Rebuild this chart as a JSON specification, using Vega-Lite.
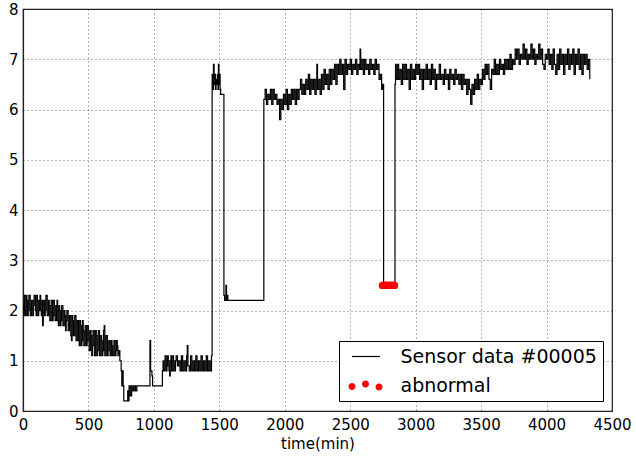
{
  "$schema": "https://vega.github.io/schema/vega-lite/v6.json",
  "width": 589,
  "height": 402,
  "autosize": "none",
  "padding": {"left": 23, "top": 9, "right": 24, "bottom": 46},
  "background": "white",
  "config": {
    "font": "DejaVu Sans",
    "view": {"stroke": "#222", "strokeWidth": 1.2},
    "axis": {
      "domainColor": "#222",
      "domainWidth": 1.2,
      "labelColor": "black",
      "labelFontSize": 15,
      "labelFont": "DejaVu Sans",
      "titleFont": "DejaVu Sans",
      "titleFontSize": 15,
      "titleFontWeight": "normal",
      "titleColor": "black",
      "gridColor": "#000",
      "gridOpacity": 0.6,
      "gridDash": [1, 3],
      "gridWidth": 1,
      "ticks": false
    }
  },
  "datasets": {
    "sensor": [
      {"t":0,"v":2.1},{"t":5,"v":1.9},{"t":10,"v":2.3},{"t":15,"v":2.0},{"t":20,"v":1.9},{"t":25,"v":2.3},{"t":30,"v":2.2},{"t":35,"v":1.9},{"t":40,"v":2.0},{"t":45,"v":2.3},
      {"t":50,"v":2.3},{"t":55,"v":1.9},{"t":60,"v":1.9},{"t":65,"v":2.2},{"t":70,"v":2.2},{"t":75,"v":1.9},{"t":80,"v":2.1},{"t":85,"v":2.3},{"t":90,"v":2.3},{"t":95,"v":2.0},
      {"t":100,"v":1.9},{"t":105,"v":2.3},{"t":110,"v":2.2},{"t":115,"v":1.9},{"t":120,"v":2.0},{"t":125,"v":2.2},{"t":130,"v":2.3},{"t":135,"v":2.0},{"t":140,"v":1.9},{"t":145,"v":2.2},
      {"t":150,"v":1.7},{"t":155,"v":2.1},{"t":160,"v":2.2},{"t":165,"v":1.9},{"t":170,"v":2.0},{"t":175,"v":2.3},{"t":180,"v":2.3},{"t":185,"v":1.9},{"t":190,"v":1.9},{"t":195,"v":2.2},
      {"t":200,"v":2.1},{"t":205,"v":1.8},{"t":210,"v":1.8},{"t":215,"v":2.2},{"t":220,"v":2.2},{"t":225,"v":1.8},{"t":230,"v":1.9},{"t":235,"v":2.2},{"t":240,"v":2.1},{"t":245,"v":1.8},
      {"t":250,"v":1.8},{"t":255,"v":2.1},{"t":260,"v":2.2},{"t":265,"v":1.8},{"t":270,"v":1.7},{"t":275,"v":2.1},{"t":280,"v":2.0},{"t":285,"v":1.7},{"t":290,"v":1.8},{"t":295,"v":2.1},
      {"t":300,"v":2.1},{"t":305,"v":1.7},{"t":310,"v":1.7},{"t":315,"v":2.0},{"t":320,"v":1.9},{"t":325,"v":1.6},{"t":330,"v":1.8},{"t":335,"v":2.0},{"t":340,"v":2.0},{"t":345,"v":1.6},
      {"t":350,"v":1.6},{"t":355,"v":1.9},{"t":360,"v":1.9},{"t":365,"v":1.5},{"t":370,"v":1.4},{"t":375,"v":1.9},{"t":380,"v":1.8},{"t":385,"v":1.5},{"t":390,"v":1.5},{"t":395,"v":1.9},
      {"t":400,"v":1.9},{"t":405,"v":1.4},{"t":410,"v":1.4},{"t":415,"v":1.8},{"t":420,"v":1.8},{"t":425,"v":1.4},{"t":430,"v":1.3},{"t":435,"v":1.8},{"t":440,"v":1.7},{"t":445,"v":1.3},
      {"t":450,"v":1.4},{"t":455,"v":1.8},{"t":460,"v":1.6},{"t":465,"v":1.3},{"t":470,"v":1.3},{"t":475,"v":1.7},{"t":480,"v":1.7},{"t":485,"v":1.3},{"t":490,"v":1.4},{"t":495,"v":1.7},
      {"t":500,"v":1.6},{"t":505,"v":1.2},{"t":510,"v":1.2},{"t":515,"v":1.6},{"t":520,"v":1.5},{"t":525,"v":1.1},{"t":530,"v":1.3},{"t":535,"v":1.6},{"t":540,"v":1.6},{"t":545,"v":1.1},
      {"t":550,"v":1.1},{"t":555,"v":1.6},{"t":560,"v":1.5},{"t":565,"v":1.1},{"t":570,"v":1.2},{"t":575,"v":1.6},{"t":580,"v":1.6},{"t":585,"v":1.1},{"t":590,"v":1.1},{"t":595,"v":1.5},
      {"t":600,"v":1.4},{"t":605,"v":1.1},{"t":610,"v":1.2},{"t":615,"v":1.6},{"t":620,"v":1.7},{"t":625,"v":1.1},{"t":630,"v":1.1},{"t":635,"v":1.5},{"t":640,"v":1.5},{"t":645,"v":1.1},
      {"t":650,"v":1.2},{"t":655,"v":1.4},{"t":660,"v":1.4},{"t":665,"v":1.1},{"t":670,"v":1.1},{"t":675,"v":1.4},{"t":680,"v":1.3},{"t":685,"v":1.1},{"t":690,"v":1.1},{"t":695,"v":1.4},
      {"t":700,"v":1.4},{"t":705,"v":1.1},{"t":710,"v":1.2},{"t":715,"v":1.4},{"t":720,"v":1.3},{"t":725,"v":1.1},{"t":730,"v":1.1},{"t":735,"v":1.2},
      {"t":740,"v":1.0},{"t":750,"v":0.8},{"t":755,"v":0.5},{"t":760,"v":0.8},{"t":765,"v":0.5},{"t":770,"v":0.2},
      {"t":790,"v":0.2},{"t":800,"v":0.4},{"t":805,"v":0.2},{"t":810,"v":0.5},{"t":820,"v":0.3},{"t":830,"v":0.5},{"t":840,"v":0.4},{"t":850,"v":0.5},{"t":860,"v":0.4},{"t":870,"v":0.5},
      {"t":960,"v":0.5},{"t":970,"v":1.4},{"t":975,"v":0.8},{"t":985,"v":0.7},{"t":990,"v":0.5},{"t":1060,"v":0.5},{"t":1065,"v":0.8},
      {"t":1070,"v":1.0},{"t":1075,"v":0.8},{"t":1080,"v":0.8},{"t":1085,"v":1.1},{"t":1090,"v":1.1},{"t":1095,"v":0.8},{"t":1100,"v":0.9},{"t":1105,"v":1.1},{"t":1110,"v":1.0},{"t":1115,"v":0.8},
      {"t":1120,"v":0.7},{"t":1125,"v":1.0},{"t":1130,"v":1.1},{"t":1135,"v":0.8},{"t":1140,"v":0.8},{"t":1145,"v":1.1},{"t":1150,"v":1.0},{"t":1155,"v":0.8},{"t":1160,"v":0.8},{"t":1165,"v":1.0},
      {"t":1170,"v":1.1},{"t":1180,"v":0.9},{"t":1190,"v":1.0},{"t":1200,"v":0.8},{"t":1210,"v":1.1},{"t":1220,"v":0.8},{"t":1230,"v":1.0},{"t":1240,"v":0.8},{"t":1250,"v":1.1},{"t":1255,"v":1.3},
      {"t":1260,"v":0.9},{"t":1270,"v":0.8},{"t":1280,"v":1.1},{"t":1290,"v":0.8},{"t":1300,"v":1.0},{"t":1310,"v":0.8},{"t":1320,"v":1.1},{"t":1330,"v":0.8},{"t":1340,"v":1.0},{"t":1350,"v":0.8},
      {"t":1360,"v":1.1},{"t":1370,"v":0.8},{"t":1380,"v":1.0},{"t":1390,"v":0.8},{"t":1400,"v":1.1},{"t":1410,"v":0.8},{"t":1420,"v":1.0},{"t":1430,"v":0.8},{"t":1440,"v":1.1},
      {"t":1445,"v":6.7},{"t":1450,"v":6.4},{"t":1455,"v":6.9},{"t":1460,"v":6.5},{"t":1465,"v":6.7},{"t":1470,"v":6.4},{"t":1475,"v":6.6},{"t":1480,"v":6.5},{"t":1485,"v":6.7},{"t":1490,"v":6.4},
      {"t":1493,"v":6.9},{"t":1497,"v":6.5},{"t":1502,"v":6.7},{"t":1506,"v":6.4},{"t":1510,"v":6.3},{"t":1530,"v":6.3},{"t":1535,"v":2.3},{"t":1540,"v":2.2},{"t":1550,"v":2.5},{"t":1555,"v":2.2},
      {"t":1560,"v":2.3},{"t":1565,"v":2.2},{"t":1835,"v":2.2},
      {"t":1840,"v":6.2},{"t":1850,"v":6.4},{"t":1860,"v":6.1},{"t":1870,"v":6.3},{"t":1880,"v":6.2},{"t":1890,"v":6.4},{"t":1900,"v":6.1},{"t":1910,"v":6.4},{"t":1920,"v":6.2},{"t":1930,"v":6.3},
      {"t":1940,"v":6.1},{"t":1950,"v":6.2},{"t":1960,"v":5.8},{"t":1970,"v":6.2},{"t":1980,"v":6.0},{"t":1990,"v":6.3},{"t":2000,"v":6.1},{"t":2010,"v":6.4},{"t":2020,"v":6.0},{"t":2030,"v":6.3},
      {"t":2040,"v":6.1},{"t":2050,"v":6.4},{"t":2060,"v":6.2},{"t":2070,"v":6.4},{"t":2080,"v":6.1},{"t":2090,"v":6.4},{"t":2100,"v":6.2},{"t":2110,"v":6.4},{"t":2120,"v":6.6},{"t":2130,"v":6.3},
      {"t":2140,"v":6.5},{"t":2150,"v":6.3},{"t":2160,"v":6.6},{"t":2170,"v":6.4},{"t":2180,"v":6.7},{"t":2190,"v":6.3},{"t":2200,"v":6.6},{"t":2210,"v":6.4},{"t":2220,"v":6.6},{"t":2230,"v":6.3},
      {"t":2240,"v":6.6},{"t":2245,"v":6.9},{"t":2250,"v":6.4},{"t":2260,"v":6.6},{"t":2270,"v":6.3},{"t":2280,"v":6.7},{"t":2290,"v":6.4},{"t":2300,"v":6.8},{"t":2310,"v":6.5},{"t":2320,"v":6.7},
      {"t":2330,"v":6.4},{"t":2340,"v":6.8},{"t":2350,"v":6.5},{"t":2360,"v":6.8},{"t":2370,"v":6.6},{"t":2380,"v":6.9},{"t":2390,"v":6.5},{"t":2400,"v":6.9},{"t":2410,"v":6.7},{"t":2420,"v":7.0},
      {"t":2430,"v":6.7},{"t":2440,"v":6.9},{"t":2450,"v":6.4},{"t":2460,"v":7.0},{"t":2470,"v":6.7},{"t":2480,"v":6.9},{"t":2490,"v":6.8},{"t":2500,"v":7.0},{"t":2510,"v":6.7},{"t":2520,"v":6.9},
      {"t":2530,"v":6.8},{"t":2540,"v":7.0},{"t":2550,"v":6.7},{"t":2560,"v":6.9},{"t":2570,"v":6.8},{"t":2575,"v":7.2},{"t":2580,"v":6.8},{"t":2590,"v":7.0},{"t":2600,"v":6.7},{"t":2610,"v":7.0},
      {"t":2620,"v":6.8},{"t":2630,"v":6.9},{"t":2640,"v":6.7},{"t":2650,"v":7.0},{"t":2660,"v":6.8},{"t":2670,"v":6.9},{"t":2680,"v":6.7},{"t":2690,"v":7.0},{"t":2700,"v":6.8},{"t":2710,"v":6.9},
      {"t":2720,"v":6.6},{"t":2730,"v":6.7},{"t":2740,"v":6.4},{"t":2748,"v":6.5},{"t":2755,"v":2.5},{"t":2835,"v":2.5},
      {"t":2842,"v":6.5},{"t":2846,"v":6.9},{"t":2850,"v":6.6},{"t":2860,"v":6.9},{"t":2870,"v":6.6},{"t":2880,"v":6.8},{"t":2890,"v":6.5},{"t":2900,"v":6.9},{"t":2910,"v":6.6},{"t":2920,"v":6.9},
      {"t":2930,"v":6.6},{"t":2940,"v":6.8},{"t":2950,"v":6.4},{"t":2960,"v":6.9},{"t":2970,"v":6.6},{"t":2980,"v":6.8},{"t":2990,"v":6.6},{"t":3000,"v":6.9},{"t":3010,"v":6.7},{"t":3020,"v":6.9},
      {"t":3030,"v":6.6},{"t":3040,"v":6.8},{"t":3050,"v":6.4},{"t":3060,"v":6.8},{"t":3070,"v":6.6},{"t":3080,"v":6.9},{"t":3090,"v":6.6},{"t":3100,"v":6.8},{"t":3110,"v":6.5},{"t":3120,"v":6.9},
      {"t":3130,"v":6.6},{"t":3140,"v":6.8},{"t":3150,"v":6.4},{"t":3160,"v":6.7},{"t":3170,"v":6.6},{"t":3180,"v":6.9},{"t":3190,"v":6.6},{"t":3200,"v":6.7},{"t":3210,"v":6.5},{"t":3220,"v":6.8},
      {"t":3230,"v":6.6},{"t":3240,"v":6.7},{"t":3250,"v":6.4},{"t":3260,"v":6.8},{"t":3270,"v":6.6},{"t":3280,"v":6.7},{"t":3290,"v":6.5},{"t":3300,"v":6.8},{"t":3310,"v":6.6},{"t":3320,"v":6.7},
      {"t":3330,"v":6.5},{"t":3340,"v":6.7},{"t":3350,"v":6.4},{"t":3360,"v":6.7},{"t":3370,"v":6.5},{"t":3380,"v":6.6},{"t":3390,"v":6.3},{"t":3400,"v":6.6},{"t":3410,"v":6.4},{"t":3420,"v":6.1},
      {"t":3430,"v":6.5},{"t":3440,"v":6.3},{"t":3450,"v":6.6},{"t":3460,"v":6.4},{"t":3470,"v":6.7},{"t":3480,"v":6.4},{"t":3490,"v":6.6},{"t":3500,"v":6.5},{"t":3510,"v":6.8},{"t":3520,"v":6.6},
      {"t":3530,"v":6.9},{"t":3540,"v":6.7},{"t":3550,"v":6.9},{"t":3560,"v":6.6},{"t":3570,"v":6.4},{"t":3580,"v":6.8},{"t":3590,"v":6.7},{"t":3600,"v":7.0},{"t":3610,"v":6.7},{"t":3620,"v":6.9},
      {"t":3630,"v":6.7},{"t":3640,"v":7.0},{"t":3650,"v":6.8},{"t":3660,"v":6.9},{"t":3670,"v":6.7},{"t":3680,"v":7.0},{"t":3690,"v":6.8},{"t":3700,"v":7.0},{"t":3710,"v":6.8},{"t":3720,"v":7.1},
      {"t":3730,"v":6.8},{"t":3740,"v":7.0},{"t":3750,"v":6.9},{"t":3760,"v":7.2},{"t":3770,"v":7.0},{"t":3780,"v":7.2},{"t":3790,"v":6.9},{"t":3800,"v":7.1},{"t":3810,"v":7.0},{"t":3820,"v":7.3},
      {"t":3830,"v":7.0},{"t":3840,"v":7.2},{"t":3850,"v":6.9},{"t":3860,"v":7.1},{"t":3870,"v":7.0},{"t":3880,"v":7.3},{"t":3890,"v":7.0},{"t":3900,"v":7.2},{"t":3910,"v":6.9},{"t":3920,"v":7.1},
      {"t":3930,"v":7.0},{"t":3940,"v":7.3},{"t":3950,"v":7.0},{"t":3960,"v":7.2},{"t":3970,"v":6.9},{"t":3980,"v":6.8},{"t":3990,"v":7.1},{"t":4000,"v":7.0},{"t":4010,"v":7.2},{"t":4020,"v":6.9},
      {"t":4030,"v":7.1},{"t":4040,"v":6.8},{"t":4050,"v":7.2},{"t":4060,"v":6.9},{"t":4070,"v":6.7},{"t":4080,"v":7.1},{"t":4090,"v":6.8},{"t":4100,"v":7.2},{"t":4110,"v":6.9},{"t":4120,"v":7.1},
      {"t":4130,"v":6.7},{"t":4140,"v":7.1},{"t":4150,"v":6.9},{"t":4160,"v":7.2},{"t":4170,"v":6.8},{"t":4180,"v":7.1},{"t":4190,"v":6.9},{"t":4200,"v":7.2},{"t":4210,"v":6.7},{"t":4220,"v":7.1},
      {"t":4230,"v":6.9},{"t":4240,"v":7.2},{"t":4250,"v":6.8},{"t":4260,"v":7.1},{"t":4270,"v":6.7},{"t":4280,"v":7.1},{"t":4290,"v":6.9},{"t":4300,"v":7.1},{"t":4310,"v":6.8},{"t":4320,"v":7.0},
      {"t":4330,"v":6.6}
    ],
    "abnormal": [
      {"t":2745,"v":2.5,"series":"abnormal"},{"t":2750,"v":2.5,"series":"abnormal"},{"t":2755,"v":2.5,"series":"abnormal"},{"t":2760,"v":2.5,"series":"abnormal"},
      {"t":2765,"v":2.5,"series":"abnormal"},{"t":2770,"v":2.5,"series":"abnormal"},{"t":2775,"v":2.5,"series":"abnormal"},{"t":2780,"v":2.5,"series":"abnormal"},
      {"t":2785,"v":2.5,"series":"abnormal"},{"t":2790,"v":2.5,"series":"abnormal"},{"t":2795,"v":2.5,"series":"abnormal"},{"t":2800,"v":2.5,"series":"abnormal"},
      {"t":2805,"v":2.5,"series":"abnormal"},{"t":2810,"v":2.5,"series":"abnormal"},{"t":2815,"v":2.5,"series":"abnormal"},{"t":2820,"v":2.5,"series":"abnormal"},
      {"t":2825,"v":2.5,"series":"abnormal"},{"t":2830,"v":2.5,"series":"abnormal"},{"t":2835,"v":2.5,"series":"abnormal"},{"t":2840,"v":2.5,"series":"abnormal"}
    ]
  },
  "layer": [
    {
      "data": {"name": "sensor"},
      "mark": {"type": "line", "color": "black", "strokeWidth": 1.2, "interpolate": "step-after", "clip": true},
      "encoding": {
        "x": {
          "field": "t", "type": "quantitative",
          "scale": {"domain": [0, 4500], "nice": false, "zero": false},
          "axis": {"title": "time(min)", "format": "d", "values": [0,500,1000,1500,2000,2500,3000,3500,4000,4500], "labelPadding": 6, "titlePadding": 4, "labelFlush": false}
        },
        "y": {
          "field": "v", "type": "quantitative",
          "scale": {"domain": [0, 8], "nice": false},
          "axis": {"title": null, "format": "d", "values": [0,1,2,3,4,5,6,7,8], "labelPadding": 5, "labelFlush": false}
        }
      }
    },
    {
      "data": {"name": "abnormal"},
      "mark": {"type": "point", "filled": true, "opacity": 1, "size": 50, "shape": "circle", "color": "red"},
      "encoding": {
        "x": {"field": "t", "type": "quantitative"},
        "y": {"field": "v", "type": "quantitative"}
      }
    },
    {
      "data": {"name": "abnormal"},
      "transform": [{"filter": "datum.t < 0"}],
      "mark": {"type": "point", "filled": true, "opacity": 1, "size": 400, "strokeWidth": 0},
      "encoding": {
        "x": {"field": "t", "type": "quantitative"},
        "y": {"field": "v", "type": "quantitative"},
        "color": {
          "field": "series", "type": "nominal",
          "scale": {"domain": ["Sensor data #00005", "abnormal"], "range": ["black", "red"]},
          "legend": {
            "title": null,
            "orient": "none",
            "legendX": 316,
            "legendY": 332,
            "padding": 5.5,
            "rowPadding": 9,
            "strokeColor": "black",
            "fillColor": "white",
            "cornerRadius": 0,
            "labelFontSize": 19,
            "labelFont": "DejaVu Sans",
            "labelColor": "black",
            "labelLimit": 400,
            "labelOffset": 36,
            "symbolSize": 400,
            "symbolStrokeWidth": 0
          }
        },
        "shape": {
          "field": "series", "type": "nominal",
          "scale": {"domain": ["Sensor data #00005", "abnormal"], "range": ["M-0.25,-0.06L2.55,-0.06L2.55,0.06L-0.25,0.06Z", "M-0.6,0.1a0.35,0.35 0 1,0 0.7,0a0.35,0.35 0 1,0 -0.7,0ZM0.75,-0.15a0.35,0.35 0 1,0 0.7,0a0.35,0.35 0 1,0 -0.7,0ZM2.1,0.15a0.35,0.35 0 1,0 0.7,0a0.35,0.35 0 1,0 -0.7,0Z"]},
          "legend": {
            "title": null,
            "orient": "none",
            "legendX": 316,
            "legendY": 332,
            "padding": 5.5,
            "rowPadding": 9,
            "strokeColor": "black",
            "fillColor": "white",
            "cornerRadius": 0,
            "labelFontSize": 19,
            "labelFont": "DejaVu Sans",
            "labelColor": "black",
            "labelLimit": 400,
            "labelOffset": 36,
            "symbolSize": 400,
            "symbolStrokeWidth": 0
          }
        }
      }
    }
  ]
}
